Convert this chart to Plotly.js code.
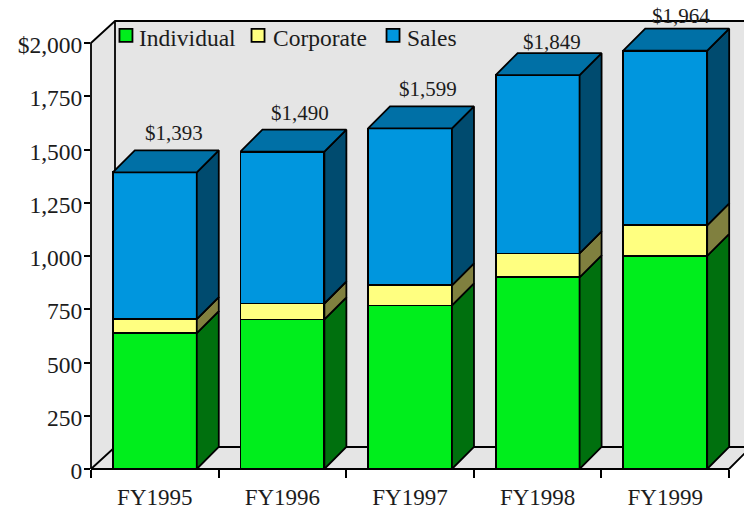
<!DOCTYPE html>
<html><head><meta charset="utf-8">
<script src="https://cdn.plot.ly/plotly-3.0.1.min.js"></script>
<style>html,body{margin:0;padding:0;background:#fff;overflow:hidden}</style>
</head><body><div id="chart" style="width:744px;height:510px"></div>
<script>
var categories = ['FY1995','FY1996','FY1997','FY1998','FY1999'];
var individual = [638,702,768,900,1001];
var corporate  = [66,75,94,112,143];
var sales      = [689,713,737,837,820];
var totals     = [1393,1490,1599,1849,1964];
var totalLabels = ['$1,393','$1,490','$1,599','$1,849','$1,964'];
var labelLift  = [3,3,3,-3,-1];
var labelNudge = [1,0,0,-3,-2];
var yTickVals  = [0,250,500,750,1000,1250,1500,1750,2000];
var yTickText  = ['0','250','500','750','1,000','1,250','1,500','1,750','$2,000'];
var seriesNames = ['Individual','Corporate','Sales'];
var frontColors = ['#00EE1C','#FFFF80','#0096DE'];
var sideColors  = ['#00700E','#80803F','#004B6F'];
var topColor = '#0070A6';
var legendKeyX = [-0.226,0.809,1.867];
var legendTextX = [-0.124,0.926,1.98];

var W=744,H=510,mL=91,mB=41;
var axisLen=638, axisH=426;         // length of the drawn axes in px
var pw=W-mL, ph=H-mB;               // plot frame runs to the window's top and right edges
var unitX=axisLen/5, unitY=axisH/2000;
var depthX=22/unitX, depthY=22/unitY, barW=0.658;
var ink='#000', lw=1.8, textInk='#1c1c1c', family='"Liberation Serif","Times New Roman",serif';
var x=categories.map(function(c,i){return i;});
var stacks=[individual,corporate,sales];

var traces=[];
stacks.forEach(function(vals,s){
  traces.push({type:'bar',name:seriesNames[s],x:x,y:vals,width:barW,
    marker:{color:frontColors[s],line:{color:ink,width:lw}},showlegend:false,hoverinfo:'name+y'});
});
var base=x.map(function(){return 0;});
stacks.forEach(function(vals,s){
  var px=[],py=[];
  x.forEach(function(c,i){
    var r=c+barW/2,lo=base[i],hi=base[i]+vals[i];
    px.push(r,r+depthX,r+depthX,r,r,null);
    py.push(lo,lo+depthY,hi+depthY,hi,lo,null);
    base[i]=hi;
  });
  traces.push({type:'scatter',mode:'lines',x:px,y:py,fill:'toself',fillcolor:sideColors[s],
    line:{color:ink,width:lw},showlegend:false,hoverinfo:'skip'});
});
var tx=[],ty=[];
x.forEach(function(c,i){
  var l=c-barW/2,r=c+barW/2,t=base[i];
  tx.push(l,l+depthX,r+depthX,r,l,null);
  ty.push(t,t+depthY,t+depthY,t,t,null);
});
traces.push({type:'scatter',mode:'lines',x:tx,y:ty,fill:'toself',fillcolor:topColor,
  line:{color:ink,width:lw},showlegend:false,hoverinfo:'skip'});
traces.push({type:'scatter',mode:'markers',x:legendKeyX,y:legendKeyX.map(function(){return 2036;}),
  marker:{symbol:'square',size:13,color:frontColors,line:{color:ink,width:lw}},
  showlegend:false,hoverinfo:'skip'});

var annotations=[];
x.forEach(function(c,i){
  annotations.push({x:c+0.14,y:totals[i]+depthY,xref:'x',yref:'y',text:totalLabels[i],showarrow:false,
    xanchor:'center',yanchor:'bottom',xshift:labelNudge[i],yshift:labelLift[i],font:{family:family,size:21,color:textInk}});
});
seriesNames.forEach(function(n,i){
  annotations.push({x:legendTextX[i],y:2022,xref:'x',yref:'y',text:n,showarrow:false,
    xanchor:'left',yanchor:'middle',xshift:-2,font:{family:family,size:23.5,color:textInk}});
});

// wall, floor and axis edges in fractions of the plot frame
var X1=axisLen/pw, Y1=axisH/ph, dxW=24/pw, dyW=22/ph, xEnd=1.02;
var wallPath='M0,0 L0,'+Y1+' L'+dxW+','+(Y1+dyW)+' L'+xEnd+','+(Y1+dyW)+' L'+xEnd+','+dyW+' L'+(X1+dyW*ph/pw)+','+dyW+' L'+X1+',0 Z';
var edgePath='M0,0 L0,'+Y1+' L'+dxW+','+(Y1+dyW)+' L'+xEnd+','+(Y1+dyW)+
  ' M'+dxW+','+(Y1+dyW)+' L'+dxW+','+dyW+' L'+xEnd+','+dyW+
  ' M0,0 L'+dxW+','+dyW+' M'+X1+',0 L'+(X1+dyW*ph/pw)+','+dyW+' M0,0 L'+X1+',0';

var layout={
  width:W,height:H,margin:{l:mL,r:0,t:0,b:mB,pad:0},
  paper_bgcolor:'#fff',plot_bgcolor:'rgba(0,0,0,0)',barmode:'stack',showlegend:false,
  font:{family:family,size:23,color:textInk},
  xaxis:{type:'linear',range:[-0.5,-0.5+pw/unitX],tickmode:'array',tickvals:x,ticktext:categories,
    ticks:'outside',ticklen:7,tickwidth:1,tickcolor:'rgba(0,0,0,0)',
    showgrid:false,zeroline:false,showline:false,
    tickfont:{family:family,size:23,color:textInk},
    minor:{tickmode:'array',tickvals:[-0.5,0.5,1.5,2.5,3.5,4.5],ticks:'outside',ticklen:8,tickwidth:lw,tickcolor:ink,showgrid:false}},
  yaxis:{type:'linear',range:[0,ph/unitY],tickmode:'array',tickvals:yTickVals,ticktext:yTickText,ticks:'outside',
    ticklen:6,tickwidth:lw,tickcolor:ink,showgrid:false,zeroline:false,showline:false,
    ticklabelstandoff:-3,ticklabelshift:2,
    tickfont:{family:family,size:23.5,color:textInk}},
  shapes:[
    {type:'path',layer:'below',xref:'paper',yref:'paper',path:wallPath,fillcolor:'#E5E5E5',line:{width:0}},
    {type:'path',layer:'below',xref:'paper',yref:'paper',path:edgePath,line:{color:ink,width:lw}}
  ],
  annotations:annotations
};
Plotly.newPlot('chart',traces,layout,{displayModeBar:false,responsive:false});
</script></body></html>
